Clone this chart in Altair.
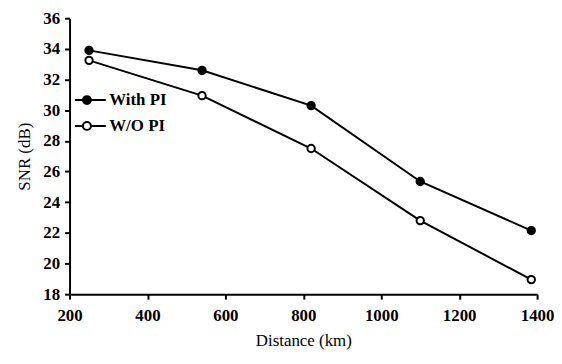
import altair as alt
import pandas as pd

distance = [250, 540, 820, 1100, 1385]
with_pi = [33.9, 32.6, 30.3, 25.35, 22.15]
without_pi = [33.25, 30.95, 27.5, 22.8, 18.95]
series = ["With PI", "W/O PI"]
x_ticks = [200, 400, 600, 800, 1000, 1200, 1400]
y_ticks = [18, 20, 22, 24, 26, 28, 30, 32, 34, 36]

rows = []
for d, a, b in zip(distance, with_pi, without_pi):
    rows.append({"Distance": d, "SNR": a, "Series": series[0]})
    rows.append({"Distance": d, "SNR": b, "Series": series[1]})
df = pd.DataFrame(rows)

FONT = "Liberation Serif"
FS = 17

x = alt.X("Distance:Q",
          scale=alt.Scale(domain=[200, 1400], nice=False, zero=False),
          axis=alt.Axis(values=x_ticks, format="d", title="Distance (km)", grid=False,
                        domainWidth=2, tickWidth=2, tickSize=5, domainColor="black",
                        tickColor="black", labelFont=FONT, labelFontSize=FS,
                        labelFontWeight="bold", labelColor="black", labelPadding=9,
                        titleFont=FONT, titleFontSize=FS, titleFontWeight="normal",
                        titleColor="black", titlePadding=9, labelFlush=False))
y = alt.Y("SNR:Q",
          scale=alt.Scale(domain=[18, 36], nice=False, zero=False),
          axis=alt.Axis(values=y_ticks, format="d", title="SNR (dB)", grid=False,
                        domainWidth=2, tickWidth=2, tickSize=5, domainColor="black",
                        tickColor="black", labelFont=FONT, labelFontSize=FS,
                        labelFontWeight="bold", labelColor="black", labelPadding=5,
                        titleFont=FONT, titleFontSize=FS, titleFontWeight="normal",
                        titleColor="black", titlePadding=9, labelFlush=False))

legend_path = "M-3,0L-1,0M1,0L4.75,0M-1,0A1,1 0 1,0 1,0A1,1 0 1,0 -1,0"

lines = alt.Chart(df).mark_line(color="black", strokeWidth=2).encode(
    x=x, y=y, detail="Series:N")

points = alt.Chart(df).mark_point(shape="circle", size=55, strokeWidth=2,
                                  stroke="black", opacity=1).encode(
    x=x, y=y,
    fill=alt.Fill("Series:N",
                  scale=alt.Scale(domain=series, range=["black", "white"]),
                  legend=alt.Legend(title=None, orient="none", legendX=9, legendY=74,
                                    symbolType=legend_path, symbolSize=64,
                                    symbolStrokeColor="black", symbolStrokeWidth=2,
                                    labelFont=FONT, labelFontSize=FS,
                                    labelFontWeight="bold", labelColor="black",
                                    labelOffset=14, rowPadding=8, padding=0)))

chart = alt.layer(lines, points).properties(
    width=471, height=278,
    autosize=alt.AutoSizeParams(type="none"),
    padding={"left": 62, "top": 9, "right": 17, "bottom": 61},
).configure_view(stroke=None)

chart.save("out.html", embed_options={"renderer": "svg", "actions": False})
